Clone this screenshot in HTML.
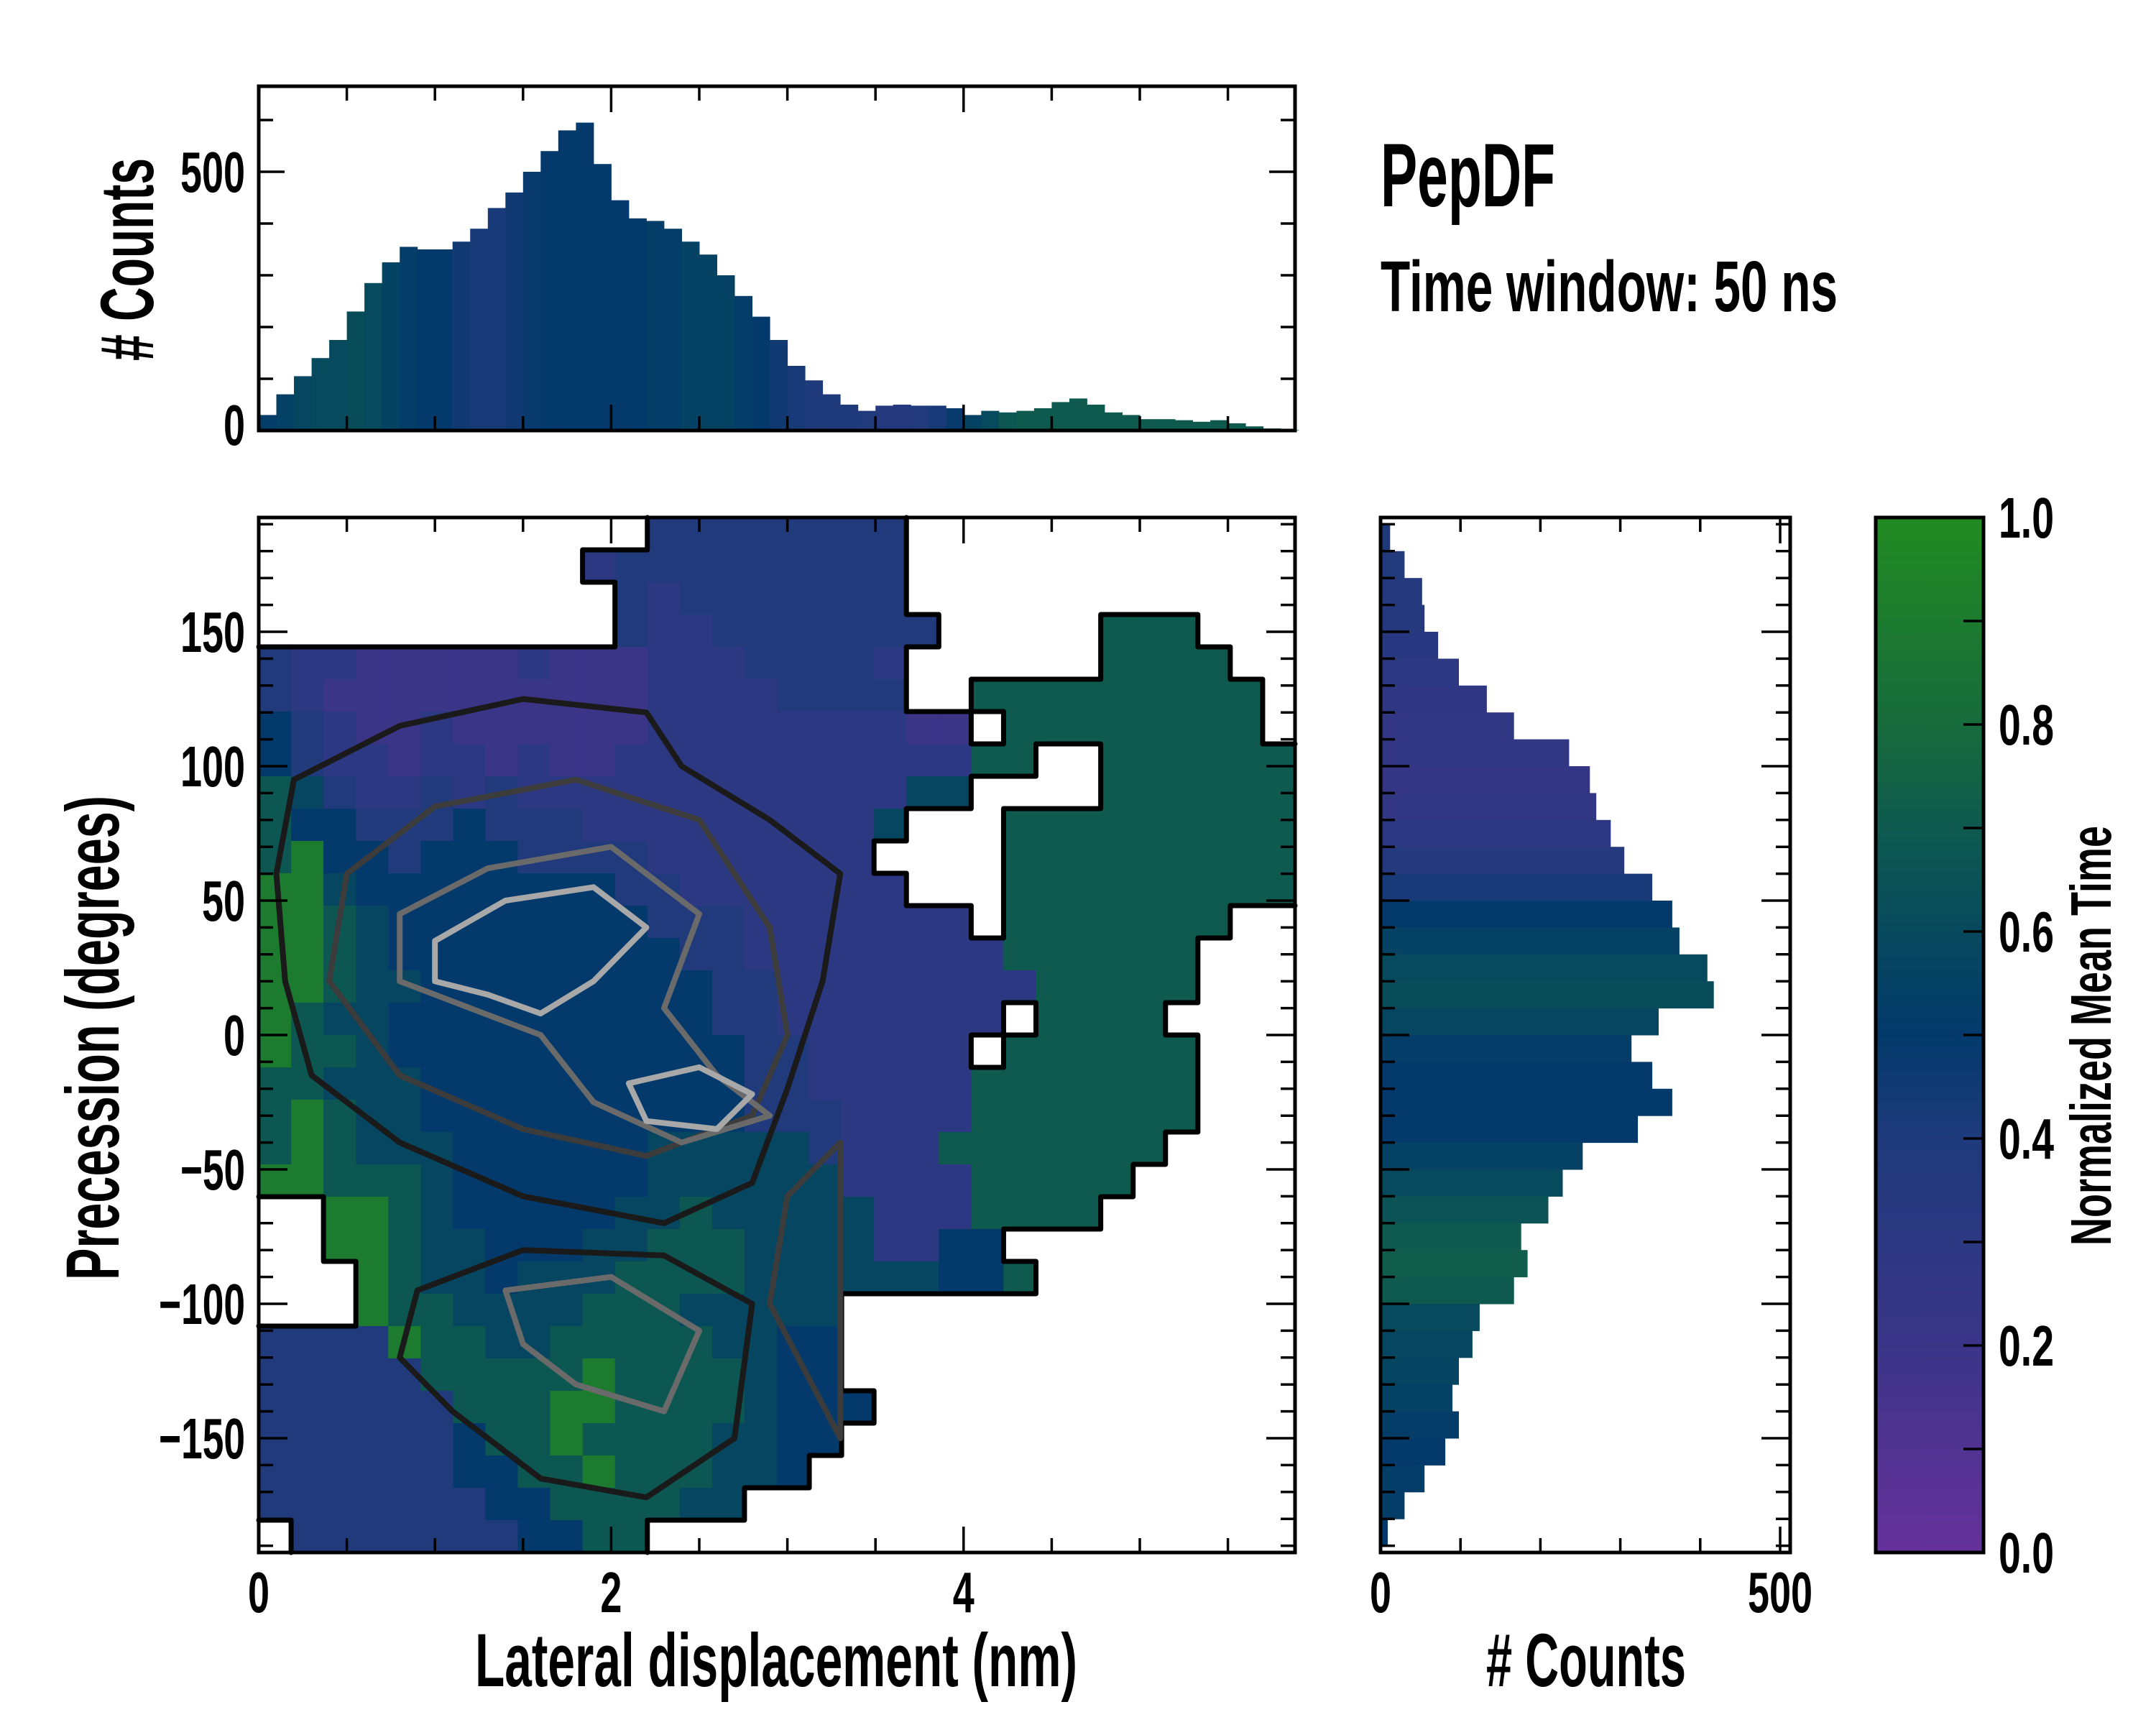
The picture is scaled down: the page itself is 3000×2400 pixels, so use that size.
<!DOCTYPE html>
<html><head><meta charset="utf-8"><title>PepDF</title>
<style>
html,body{margin:0;padding:0;background:#fff;}
svg{display:block;}
text{font-family:"Liberation Sans Narrow","Liberation Sans",sans-serif;font-weight:bold;fill:#000;}
</style></head>
<body>
<svg id="fig" width="3000" height="2400" viewBox="0 0 3000 2400" xmlns="http://www.w3.org/2000/svg">
<defs>
<linearGradient id="cbgrad" x1="0" y1="1" x2="0" y2="0">
<stop offset="0" stop-color="#65319b"/><stop offset="0.2" stop-color="#3b3588"/>
<stop offset="0.4" stop-color="#1e3a7b"/><stop offset="0.5" stop-color="#033a6b"/>
<stop offset="0.6" stop-color="#07495d"/><stop offset="0.7" stop-color="#0e5a4f"/>
<stop offset="0.8" stop-color="#176b3c"/><stop offset="1" stop-color="#228b22"/>
</linearGradient>
<clipPath id="mainclip"><rect x="360" y="720" width="1442" height="1440"/></clipPath>
</defs>
<g id="heat"></g>
<g id="edges"></g>
<g id="contours" clip-path="url(#mainclip)"></g>
<g id="tophist"></g>
<g id="righthist"></g>
<rect x="2610" y="720" width="150" height="1440" fill="url(#cbgrad)" stroke="#000" stroke-width="5"/>
<g id="ticks"></g>
<rect x="360" y="120" width="1442" height="479" fill="none" stroke="#000" stroke-width="5"/>
<rect x="360" y="720" width="1442" height="1440" fill="none" stroke="#000" stroke-width="5"/>
<rect x="1921" y="720" width="570" height="1440" fill="none" stroke="#000" stroke-width="5"/>
<g id="labels"></g>
<text x="1921" y="287" font-size="125" textLength="243" lengthAdjust="spacingAndGlyphs">PepDF</text>
<text x="1921" y="433" font-size="100" textLength="636" lengthAdjust="spacingAndGlyphs">Time window: 50 ns</text>
<text x="1080" y="2346" font-size="105" text-anchor="middle" textLength="838" lengthAdjust="spacingAndGlyphs">Lateral displacement (nm)</text>
<text transform="translate(165,1444) rotate(-90)" font-size="105" text-anchor="middle" textLength="674" lengthAdjust="spacingAndGlyphs">Precession (degrees)</text>
<text transform="translate(213,361) rotate(-90)" font-size="105" text-anchor="middle" textLength="282" lengthAdjust="spacingAndGlyphs"># Counts</text>
<text x="2207" y="2346" font-size="105" text-anchor="middle" textLength="278" lengthAdjust="spacingAndGlyphs"># Counts</text>
<text transform="translate(2937,1441) rotate(-90)" font-size="80" text-anchor="middle" textLength="584" lengthAdjust="spacingAndGlyphs">Normalized Mean Time</text>
</svg>
<script>
// ---- data ----
const topBinsNm = [0.0,0.1,0.2,0.3,0.4,0.5,0.6,0.7,0.8,0.9,1.0,1.1,1.2,1.3,1.4,1.5,1.6,1.7,1.8,1.9,2.0,2.1,2.2,2.3,2.4,2.5,2.6,2.7,2.8,2.9,3.0,3.1,3.2,3.3,3.4,3.5,3.6,3.7,3.8,3.9,4.0,4.1,4.2,4.3,4.4,4.5,4.6,4.7,4.8,4.9,5.0,5.1,5.2,5.3,5.4,5.5,5.6,5.7,5.8];
const topCounts = [30,70,105,140,175,230,285,325,355,350,350,365,390,430,460,500,540,580,595,515,445,410,405,390,365,340,300,260,220,175,125,97,70,50,38,48,50,48,48,43,30,38,35,38,43,55,62,50,35,30,22,22,20,17,20,14,8,4,1];
const topTime = [0.52,0.54,0.58,0.6,0.6,0.62,0.6,0.56,0.52,0.5,0.5,0.45,0.42,0.42,0.45,0.48,0.5,0.5,0.5,0.5,0.5,0.5,0.52,0.52,0.55,0.55,0.55,0.52,0.5,0.45,0.42,0.4,0.4,0.4,0.38,0.36,0.36,0.38,0.42,0.48,0.55,0.6,0.68,0.7,0.7,0.7,0.7,0.7,0.7,0.7,0.7,0.7,0.7,0.7,0.7,0.7,0.7,0.7,0.7];
const rightBinsDeg = [185,175,165,155,145,135,125,115,105,95,85,75,65,55,45,35,25,15,5,-5,-15,-25,-35,-45,-55,-65,-75,-85,-95,-105,-115,-125,-135,-145,-155,-165,-175,-185];
const rightCounts = [12,30,52,55,72,98,133,167,236,262,270,288,305,340,365,374,409,417,348,314,340,365,322,253,228,210,176,184,167,124,115,98,90,98,81,55,30,9];
const rightTime = [0.4,0.38,0.36,0.35,0.33,0.3,0.28,0.27,0.26,0.25,0.27,0.3,0.35,0.42,0.5,0.55,0.6,0.62,0.58,0.52,0.5,0.5,0.5,0.55,0.6,0.66,0.7,0.72,0.7,0.6,0.58,0.57,0.55,0.52,0.5,0.52,0.52,0.5];
const heatRows = [
"............bbbbbbbb............",
"..........qbbbbbbbbb............",
"...........bqbbbbbbb............",
"...........bqqbbbbbbb.....TTT...",
"bqqpppppqpppqqqbbbbq......TTTT..",
"bqppppppppppqqqqbbbb..TTTTTTTTT.",
"nbqppqppppppqqqqqqqqpp.TTTTTTTT.",
"nbqqpqqpqppqqqqqqqqqqqTT..TTTTTT",
"gmbqqbqbqqqqqqqqqqqqmm....TTTTTT",
"gnnbbbnbbbqqqqqqqqqm...TTTTTTTTT",
"gGnnbnnnbbbbqqqqqqq....TTTTTTTTT",
"GGmnnnnnnnnbbqqqqqqq...TTTTTTTTT",
"GGgmnnnnnnnnbbbqqqqqqq.TTTTTTT..",
"GGgmnnnnnnnnnbbqqqqqqqqTTTTTT...",
"GGgmmnnnnnnnnnbbqqqqqqqqTTTTT...",
"Ggmmnnnnnnnnnnbbqqqqqqq.TTTT....",
"Gggmnnnnnnnnnnnbbqqqqq.TTTTTT...",
"ggmmmnnnnnnnnnnbbqqqqqTTTTTTT...",
"gGgmmnnnnnnnnnnbbbqqqqTTTTTTT...",
"gGgmmmnnnnnnmmmmmbqqqTTTTTTT....",
"GGgggmnnnnnnmmmmmmqqqqTTTTT.....",
"..GGgmnnnnnmmgmmmmmqqqTTTT......",
"..GGgmmnnnmmgggmmmmqqnn.........",
"...GgmmnmmmggggmmmmmmnnT........",
"...Gggmmmmgggmmmmm..............",
"bbbbGggmmgggggmmnn..............",
"bbbbbgggggGggggmnn..............",
"bbbbbbgggGGggggmnnn.............",
"bbbbbbnggGggggmmnn..............",
"bbbbbbnnggGgggmmn...............",
"bbbbbbbnnggggmm.................",
".bbbbbbbnngg...................."
];
const codeTime = {p:0.2,q:0.3,b:0.38,n:0.5,m:0.58,g:0.68,G:0.9,T:0.7};
// contour loops: [nm, deg] vertices, with level index
const contourLevels = [0,0,1,2,3,3,2,1];
const contourLoops = [
 [[0.2,95],[0.8,115],[1.5,125],[2.2,120],[2.4,100],[2.9,80],[3.3,60],[3.2,20],[3.0,-20],[2.8,-55],[2.3,-70],[1.5,-60],[0.8,-40],[0.3,-15],[0.15,20],[0.1,60]],
 [[0.9,-95],[1.5,-80],[2.3,-82],[2.8,-100],[2.7,-150],[2.2,-172],[1.6,-165],[1.1,-140],[0.8,-120]],
 [[0.5,60],[1.0,85],[1.8,95],[2.5,80],[2.9,40],[3.0,0],[2.8,-30],[2.2,-45],[1.5,-35],[0.8,-15],[0.4,20]],
 [[0.8,45],[1.3,62],[2.0,70],[2.5,45],[2.3,10],[2.6,-15],[2.9,-30],[2.4,-40],[1.9,-25],[1.6,0],[1.2,10],[0.8,20]],
 [[1.0,35],[1.4,50],[1.9,55],[2.2,40],[1.9,20],[1.6,8],[1.3,15],[1.0,20]],
 [[2.1,-18],[2.5,-12],[2.8,-22],[2.6,-35],[2.2,-32]],
 [[1.4,-95],[2.0,-90],[2.5,-110],[2.3,-140],[1.8,-130],[1.5,-115]],
 [[3.3,-150],[2.9,-100],[3.0,-60],[3.3,-40]]
];
const xTickMajor = [0,2,4];
const yTickMajor = [150,100,50,0,-50,-100,-150];
const cbTicks = [0.0,0.2,0.4,0.6,0.8,1.0];

// ---- scales ----
const NS='http://www.w3.org/2000/svg';
const xs = v => 360 + v*245.2;
const ys = d => 1440 - d*3.74;
const yt = c => 599 - c*0.72;
const xr = c => 1921 + c*1.112;
const nCols = 32, nRows = 32;
const cellW = 1442/nCols, cellH = 1440/nRows;
const stops=[[0,[101,49,155]],[0.2,[59,53,136]],[0.4,[30,58,123]],[0.5,[3,58,107]],[0.6,[7,73,93]],[0.7,[14,90,79]],[0.8,[23,107,60]],[1,[34,139,34]]];
function cmap(t){for(let i=1;i<stops.length;i++){if(t<=stops[i][0]){const a=stops[i-1],b=stops[i],f=(t-a[0])/(b[0]-a[0]);return 'rgb('+a[1].map((v,k)=>Math.round(v+(b[1][k]-v)*f)).join(',')+')';}}return 'rgb(34,139,34)';}
function mk(tag,attrs,parent){const e=document.createElementNS(NS,tag);for(const k in attrs)e.setAttribute(k,attrs[k]);parent.appendChild(e);return e;}

// heatmap
const heat=document.getElementById('heat');
const edges=document.getElementById('edges');
let ed='';
heatRows.forEach((row,r)=>{for(let c=0;c<nCols;c++){const ch=row[c];if(ch==='.')continue;
 const x=360+c*cellW,y=720+r*cellH;
 const el=mk('rect',{x:x.toFixed(1),y:y.toFixed(1),width:(cellW+0.6).toFixed(1),height:(cellH+0.6).toFixed(1),fill:cmap(codeTime[ch])},heat);
 
 
 const filled=(rr,cc)=>rr<0||rr>=nRows||cc<0||cc>=nCols?true:heatRows[rr][cc]!=='.';
 if(!filled(r-1,c))ed+=`M${x},${y}h${cellW}`;
 if(!filled(r+1,c))ed+=`M${x},${y+cellH}h${cellW}`;
 if(!filled(r,c-1))ed+=`M${x},${y}v${cellH}`;
 if(!filled(r,c+1))ed+=`M${x+cellW},${y}v${cellH}`;
}});
const ep=mk('path',{d:ed,stroke:'#000','stroke-width':7,fill:'none','stroke-linecap':'round'},edges);



// contours
const levelColor=['#1a1a1a','#3c3c3c','#6a6a6a','#a8a8a8'];
const cg=document.getElementById('contours');
contourLoops.forEach((loop,i)=>{
 const d='M'+loop.map(p=>xs(p[0]).toFixed(1)+','+ys(p[1]).toFixed(1)).join('L')+'Z';
 const el=mk('path',{d:d,fill:'none',stroke:levelColor[contourLevels[i]],'stroke-width':8,'stroke-linejoin':'round'},cg);
 
 
});

// top histogram
const th=document.getElementById('tophist');
topBinsNm.forEach((b,i)=>{const x0=xs(b),x1=xs(b+0.1);
 const el=mk('rect',{x:x0.toFixed(1),y:yt(topCounts[i]).toFixed(1),width:(x1-x0+0.5).toFixed(1),height:(yt(0)-yt(topCounts[i])).toFixed(1),fill:cmap(topTime[i])},th);
 
 
});
// right histogram
const rh=document.getElementById('righthist');
rightBinsDeg.forEach((d,i)=>{const y0=ys(d+5),y1=ys(d-5);
 const el=mk('rect',{x:1921,y:y0.toFixed(1),width:(xr(rightCounts[i])-1921).toFixed(1),height:(y1-y0+0.5).toFixed(1),fill:cmap(rightTime[i])},rh);
 
 
});

// ticks
const tk=document.getElementById('ticks');let td='';
for(let v=0;v<=5.81;v+=0.5){const x=xs(v),L=(Math.abs(v%2)<1e-6)?36:20;
 td+=`M${x},2160v${-L}M${x},720v${L}M${x},599v${-L}M${x},120v${L}`;}
for(let d=-190;d<=190;d+=10){const y=ys(d),L=(d%50===0)?40:20;
 td+=`M360,${y}h${L}M1802,${y}h${-L}M1921,${y}h${L}M2491,${y}h${-L}`;}
for(let c=0;c<=650;c+=100){const y=yt(c),L=(c%500===0)?36:20;td+=`M360,${y}h${L}M1802,${y}h${-L}`;}
for(let c=0;c<=500;c+=100){const x=xr(c),L=(c%500===0)?36:20;td+=`M${x},2160v${-L}M${x},720v${L}`;}
for(let t=0.1;t<1;t+=0.1){const y=2160-t*1440;td+=`M2760,${y}h-28`;}
const tp=mk('path',{d:td,stroke:'#000','stroke-width':3.5,fill:'none'},tk);



// tick labels
const lb=document.getElementById('labels');
function lab(txt,x,y,anchor,w,name){const e=mk('text',{x:x,y:y,'font-size':80,'text-anchor':anchor,textLength:w,lengthAdjust:'spacingAndGlyphs'},lb);e.textContent=txt;
 
 }
xTickMajor.forEach(v=>lab(String(v),xs(v),2243,'middle',30,'x-tick-label'));
yTickMajor.forEach(d=>{const s=d<0?'\u2212'+(-d):String(d);lab(s,341,ys(d)+28,'end',s.length*30,'y-tick-label');});
lab('500',341,yt(500)+28,'end',90,'top-hist-y-tick-label');
lab('0',341,yt(0)+20,'end',30,'top-hist-y-tick-label');
lab('0',xr(0),2243,'middle',30,'right-hist-x-tick-label');
lab('500',xr(500),2243,'middle',90,'right-hist-x-tick-label');
cbTicks.forEach(t=>lab(t.toFixed(1),2781,2160-t*1440+28,'start',77,'colorbar-tick-label'));
</script>
</body></html>
